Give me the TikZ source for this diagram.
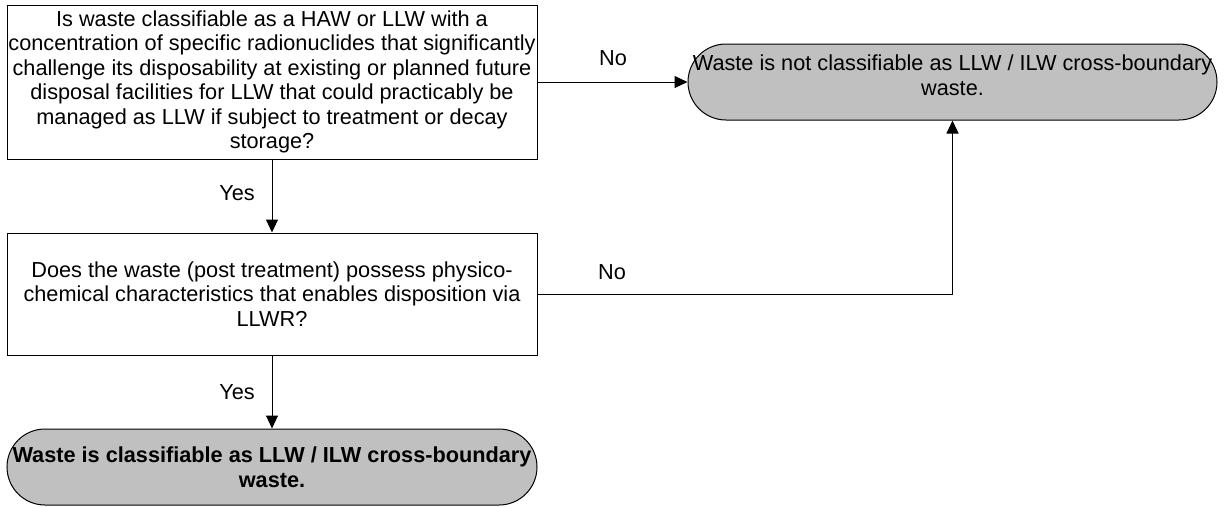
\documentclass[tikz,border=0pt]{standalone}
\usepackage{fontspec}
\setmainfont{Liberation Sans}
\usetikzlibrary{arrows.meta}
\definecolor{termfill}{RGB}{192,192,192}
\newcommand{\flowfont}{\fontsize{21.7}{24.5}\selectfont}
\tikzset{
  base/.style={font=\flowfont, align=center, inner sep=0pt},
  question/.style={base, draw, line width=1pt, minimum width=530pt},
  terminal/.style={base, draw, line width=1pt, fill=termfill, rounded corners=38pt,
                   minimum width=529pt, minimum height=76pt},
  flow/.style={line width=1pt, -{Triangle[length=13pt,width=12pt]}},
  answer/.style={base}
}
\begin{document}
\begin{tikzpicture}[x=1pt,y=-1pt]
\useasboundingbox (0,0) rectangle (1228,506);

\node[question, minimum height=154pt] (q1) at (272,82)
  {Is waste classifiable as a HAW or LLW with a\\
   concentration of specific radionuclides that significantly\\
   challenge its disposability at existing or planned future\\
   disposal facilities for LLW that could practicably be\\
   managed as LLW if subject to treatment or decay\\
   storage?};

\node[question, minimum height=122pt] (q2) at (272,294)
  {Does the waste (post treatment) possess physico-\\
   chemical characteristics that enables disposition via\\
   LLWR?};

% extra depth on the last line lifts the text a little inside the shape
\node[terminal] (t1) at (952.5,82)
  {Waste is not classifiable as LLW / ILW cross-boundary\\
   waste.\rule[-14pt]{0pt}{14pt}};

\node[terminal, minimum width=530pt, font=\flowfont\bfseries] (t2) at (272,467)
  {Waste is classifiable as LLW / ILW cross-boundary\\ waste.};

\draw[flow] (q1.south) -- (q2.north);
\draw[flow] (q2.south) -- (t2.north);
\draw[flow] (q1.east) -- (t1.west);
\draw[flow] (q2.east) -| (t1.south);

\node[answer] (y1) at (237,193) {Yes};
\node[answer] (y2) at (237,392) {Yes};
\node[answer] (n1) at (613,58) {No};
\node[answer] (n2) at (612,272) {No};
\end{tikzpicture}
\end{document}
